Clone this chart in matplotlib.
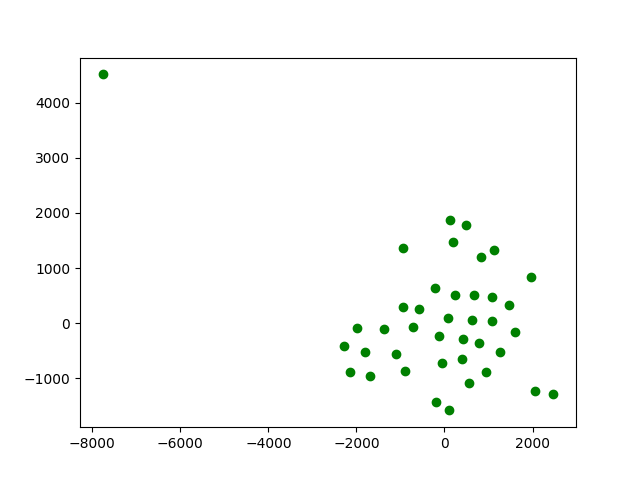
import matplotlib
matplotlib.use("Agg")
import matplotlib.pyplot as plt

# point coordinates
xs = [-7768, 123, 494, 205, -934, 1132, 820, 1975, -212, 244,
      677, 1087, 1458, -934, -576, 84, 615, 1087, -1982, -1367,
      -706, 1595, -121, 426, 775, -2285, -1800, -1100, 1269, -59,
      403, -2148, -1686, -888, 950, 547, 2050, 2476, -189, 114]
ys = [4515, 1881, 1791, 1482, 1373, 1337, 1209, 846, 646, 519,
      519, 483, 338, 289, 265, 89, 53, 35, -80, -111,
      -74, -165, -238, -292, -352, -419, -516, -565, -516, -728,
      -656, -879, -964, -861, -892, -1091, -1237, -1291, -1436, -1582]

fig = plt.figure(figsize=(6.4, 4.8), dpi=100)
plt.scatter(xs, ys, color='green')
plt.savefig('out.png')
